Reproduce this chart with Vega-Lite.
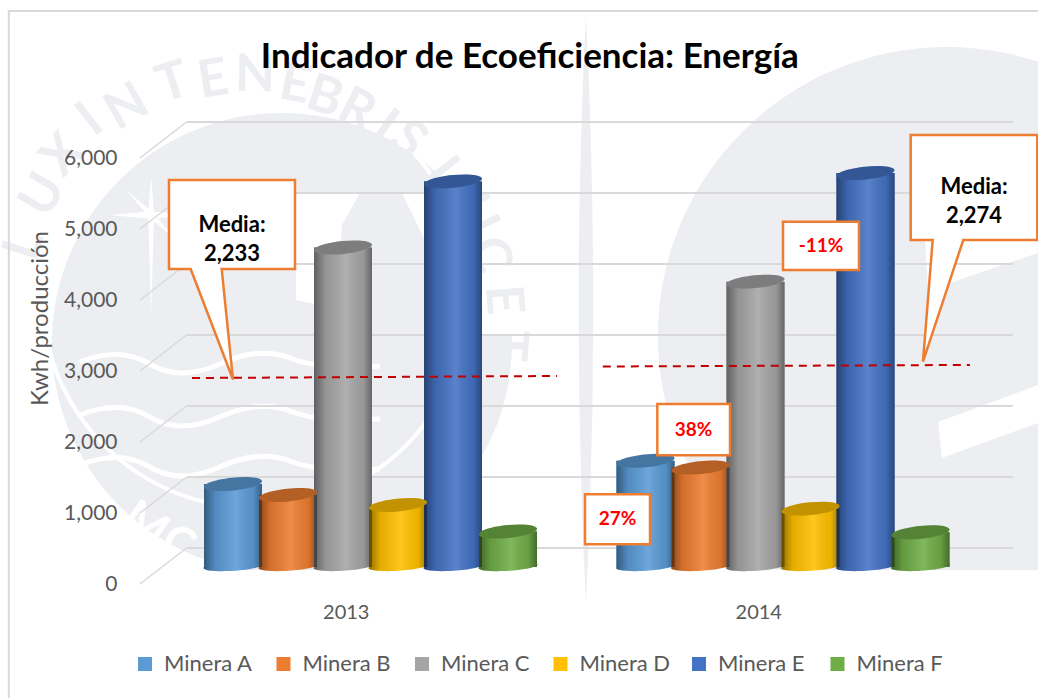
{
"$schema":"https://vega.github.io/schema/vega-lite/v6.json",
"width":825,"height":426,"autosize":{"type":"none"},
"padding":{"left":140,"right":73,"top":158,"bottom":114},
"background":"white",
"config":{"view":{"stroke":null}},
"datasets":{
"bars":[
{"anio":"2013","serie":"Minera A","valor":1169,"base":0},{"anio":"2013","serie":"Minera B","valor":1014,"base":0},{"anio":"2013","serie":"Minera C","valor":4500,"base":0},{"anio":"2013","serie":"Minera D","valor":873,"base":0},{"anio":"2013","serie":"Minera E","valor":5430,"base":0},{"anio":"2013","serie":"Minera F","valor":500,"base":0},
{"anio":"2014","serie":"Minera A","valor":1496,"base":0},{"anio":"2014","serie":"Minera B","valor":1401,"base":0},{"anio":"2014","serie":"Minera C","valor":4018,"base":0},{"anio":"2014","serie":"Minera D","valor":821,"base":0},{"anio":"2014","serie":"Minera E","valor":5549,"base":0},{"anio":"2014","serie":"Minera F","valor":489,"base":0}],
"grid":[{"nivel":0,"fondo":507,"xa":2012.5,"xb":2012.613,"xc":2014.616},{"nivel":1000,"fondo":1507,"xa":2012.5,"xb":2012.613,"xc":2014.616},{"nivel":2000,"fondo":2507,"xa":2012.5,"xb":2012.613,"xc":2014.616},{"nivel":3000,"fondo":3507,"xa":2012.5,"xb":2012.613,"xc":2014.616},{"nivel":4000,"fondo":4507,"xa":2012.5,"xb":2012.613,"xc":2014.616},{"nivel":5000,"fondo":5507,"xa":2012.5,"xb":2012.613,"xc":2014.616},{"nivel":6000,"fondo":6507,"xa":2012.5,"xb":2012.613,"xc":2014.616}],
"letras":[
{"t":"L","x":2012.22,"y":4775,"r":-72},{"t":"U","x":2012.265,"y":5479,"r":-60},{"t":"X","x":2012.313,"y":6042,"r":-48},{"t":"I","x":2012.379,"y":6535,"r":-38},{"t":"N","x":2012.468,"y":6718,"r":-30},{"t":"T","x":2012.58,"y":7056,"r":-18},{"t":"E","x":2012.677,"y":7099,"r":-9},{"t":"N","x":2012.779,"y":7169,"r":1},{"t":"E","x":2012.876,"y":7028,"r":11},{"t":"B","x":2012.948,"y":6859,"r":18},{"t":"R","x":2013.026,"y":6676,"r":27},{"t":"I","x":2013.094,"y":6437,"r":35},{"t":"S","x":2013.15,"y":6254,"r":41},{"t":"L","x":2013.239,"y":5761,"r":53},{"t":"U","x":2013.312,"y":5197,"r":65},{"t":"C","x":2013.348,"y":4634,"r":75},{"t":"E","x":2013.38,"y":4000,"r":85},{"t":"T","x":2013.39,"y":3366,"r":95}],
"pct":[{"t":"-11%","x":2014.0588,"x2":2014.243,"y":5103,"y2":4423,"cx":2014.1509,"cy":4761},{"t":"38%","x":2013.7541,"x2":2013.9303,"y":2535,"y2":1813,"cx":2013.8421,"cy":2173},{"t":"27%","x":2013.5788,"x2":2013.7364,"y":1263,"y2":559,"cx":2013.6576,"cy":915}]
},
"encoding":{
"x":{"field":"x","type":"quantitative","scale":{"domain":[2012.5,2014.5]},"axis":null},
"y":{"field":"y","type":"quantitative","scale":{"domain":[0,6000]},"axis":null}
},
"resolve":{"scale":{"x":"independent","y":"independent"}},
"layer":[
{"data":{"values":[{"x":2012.844,"y":3394}]},"mark":{"type":"point","shape":"circle","filled":true,"color":"#edeef1","opacity":1,"size":211600}},
{"data":{"values":[{"x":2014.456,"y":3493}]},"mark":{"type":"point","shape":"circle","filled":true,"color":"#edeef1","opacity":1,"size":334084}},
{"data":{"values":[{"x":2012.779,"y":4070}]},"mark":{"type":"point","shape":"circle","filled":false,"fill":null,"stroke":"#ffffff","strokeWidth":4,"opacity":1,"size":181476}},
{"data":{"values":[{"x":2013.13,"y":4563}]},"mark":{"type":"point","shape":"M-1.04,-0.67L-0.4,-0.67L-0.58,-0.35L-0.6,-0.05L-0.5,0.3L-0.8,0.45L-1.04,0.4ZM0.02,-0.67L1.2,-0.67L1.2,0.75L0.7,0.75L0.4,0.3L0.25,-0.2Z","filled":true,"color":"#ffffff","opacity":1,"size":40000}},
{"data":{"values":[{"x":2012.527,"y":5197}]},"mark":{"type":"point","shape":"M0,-0.55L0.04,-0.05L0.55,0L0.04,0.05L0,1.4L-0.04,0.05L-0.6,0L-0.04,-0.05ZM-0.35,-0.35L0.03,-0.03L0.35,0.35L-0.03,0.03Z","filled":true,"color":"#ffffff","opacity":1,"size":19600}},
{"data":{"values":[{"x":2012.742,"y":3127},{"x":2012.742,"y":2380},{"x":2012.742,"y":1676}]},"mark":{"type":"point","shape":"M-0.8,0Q-0.6,-0.08,-0.45,0.01T-0.1,0.01T0.25,-0.02T0.7,0.02","filled":false,"fill":null,"stroke":"#ffffff","strokeWidth":5,"opacity":1,"size":160000}},
{"data":{"name":"letras"},"mark":{"type":"text","font":"Lato","fontSize":52,"fontWeight":"bold","color":"#edeef1","align":"center","baseline":"middle"},"encoding":{"text":{"field":"t"},"angle":{"field":"r","type":"quantitative","scale":null}}},
{"data":{"values":[{"t":"M","x":2012.512,"y":831,"r":35},{"t":"C","x":2012.592,"y":549,"r":27}]},"mark":{"type":"text","font":"Lato","fontSize":46,"fontWeight":"bold","color":"#ffffff","align":"center","baseline":"middle"},"encoding":{"text":{"field":"t"},"angle":{"field":"r","type":"quantitative","scale":null}}},
{"data":{"values":[{"x":2012.2,"x2":2015,"y":197,"y2":-1700}]},"mark":{"type":"rect","color":"#ffffff"},"encoding":{"x2":{"field":"x2"},"y2":{"field":"y2"}}},
{"data":{"values":[{"x":2013.581,"y":3873}]},"mark":{"type":"point","shape":"M0,-1Q0.05,0,0,1Q-0.05,0,0,-1Z","filled":true,"color":"#edeef1","opacity":1,"size":345744}},
{"data":{"values":[{"x":2014.556,"y":2296}]},"mark":{"type":"point","shape":"M-0.5,0.01L0.5,-0.36L0.5,0.02L-0.463,0.37Z","filled":true,"color":"#ffffff","opacity":1,"size":40000}},
{"data":{"values":[{"x":2014.536,"y":4563}]},"mark":{"type":"point","shape":"M-0.55,-0.2L0.58,-0.2L0.58,-0.07L-0.3,0.23L-0.52,0.25Z","filled":true,"color":"#ffffff","opacity":1,"size":40000}},
{"data":{"values":[{"x":2012.182,"x2":2015,"y":8070,"y2":-1700}]},"mark":{"type":"rect","fill":"#ffffff","fillOpacity":0,"stroke":"#d9d9d9","strokeWidth":2},"encoding":{"x2":{"field":"x2"},"y2":{"field":"y2"}}},
{"data":{"values":[{"t":"Indicador de Ecoeficiencia: Energía","x":2013.445,"y":7423}]},"mark":{"type":"text","font":"Lato","fontSize":35,"fontWeight":"bold","color":"#000000","align":"center","baseline":"middle"},"encoding":{"text":{"field":"t"}}},
{"data":{"name":"grid"},"mark":{"type":"rule","color":"#d9d9d9","strokeWidth":1.5},
 "encoding":{"x":{"field":"xa","type":"quantitative","scale":{"domain":[2012.5,2014.5]},"axis":null},"x2":{"field":"xb"},
 "y":{"field":"nivel","type":"quantitative","scale":{"domain":[0,6000]},"axis":{"orient":"left","zindex":1,"values":[0,1000,2000,3000,4000,5000,6000],"format":",.0f","domain":false,"ticks":false,"grid":false,"labelFont":"Lato","labelFontSize":21,"labelColor":"#595959","labelPadding":23,"title":"Kwh/producción","titleFont":"Lato","titleFontSize":24,"titleFontWeight":"normal","titleColor":"#595959","titleAngle":-90,"titleX":-88,"titleY":160}},
 "y2":{"field":"fondo"}}},
{"data":{"name":"grid"},"mark":{"type":"rule","color":"#d9d9d9","strokeWidth":2},
 "encoding":{"x":{"field":"xb","type":"quantitative","scale":{"domain":[2012.5,2014.5]},"axis":null},"x2":{"field":"xc"},
 "y":{"field":"fondo","type":"quantitative","scale":{"domain":[0,6000]},"axis":null}}},
{"data":{"name":"bars"},"mark":{"type":"bar","width":58},
 "encoding":{"x":{"field":"anio","type":"ordinal","scale":{"domain":["2013","2014"],"paddingInner":0,"paddingOuter":0},"axis":{"orient":"bottom","zindex":1,"title":null,"labelAngle":0,"domain":false,"ticks":false,"labelFont":"Lato","labelFontSize":20,"labelColor":"#595959","labelPadding":18}},"xOffset":{"field":"serie","type":"nominal","scale":{"range":[65.5,395.5],"paddingInner":0,"paddingOuter":0}},
 "y":{"field":"valor","type":"quantitative","stack":null,"scale":{"domain":[-239.4,5760.6]},"axis":null},
 "color":{"field":"serie","type":"nominal","scale":{"domain":["Minera A","Minera B","Minera C","Minera D","Minera E","Minera F"],"range":["#5B9BD5","#ED7D31","#A5A5A5","#FFC000","#4472C4","#70AD47"]},
 "legend":{"orient":"none","zindex":1,"legendX":-6,"legendY":495,"direction":"horizontal","columns":6,"title":null,"symbolType":"square","symbolSize":196,"symbolStrokeWidth":0,"labelFont":"Lato","labelFontSize":22,"labelColor":"#595959","labelOffset":8,"columnPadding":17.5,"gridAlign":"all"}}}},
{"data":{"name":"bars"},"mark":{"type":"point","shape":"M-1,0A1,0.16,-3.5,1,1,1,-0.06A1,0.16,-3.5,1,1,-1,0Z","filled":true,"opacity":1,"size":3364},
 "encoding":{"x":{"field":"anio","type":"ordinal","scale":{"domain":["2013","2014"],"paddingInner":0,"paddingOuter":0},"axis":null},"xOffset":{"field":"serie","type":"nominal","scale":{"range":[65.5,395.5],"paddingInner":0,"paddingOuter":0}},
 "y":{"field":"base","type":"quantitative","scale":{"domain":[-239.4,5760.6]},"axis":null},
 "color":{"field":"serie","type":"nominal"}}},
{"data":{"name":"bars"},"mark":{"type":"point","shape":"M-1,0A1,0.16,-3.5,1,1,1,-0.06A1,0.16,-3.5,1,1,-1,0Z","filled":true,"opacity":1,"size":3364,"color":{"gradient":"linear","x1":0,"x2":1,"y1":0,"y2":0,"stops":[{"offset":0,"color":"rgba(0,0,0,0.42)"},{"offset":0.2,"color":"rgba(0,0,0,0.1)"},{"offset":0.55,"color":"rgba(255,255,255,0.12)"},{"offset":0.85,"color":"rgba(0,0,0,0.08)"},{"offset":1,"color":"rgba(0,0,0,0.38)"}]}},
 "encoding":{"x":{"field":"anio","type":"ordinal","scale":{"domain":["2013","2014"],"paddingInner":0,"paddingOuter":0},"axis":null},"xOffset":{"field":"serie","type":"nominal","scale":{"range":[65.5,395.5],"paddingInner":0,"paddingOuter":0}},
 "y":{"field":"base","type":"quantitative","scale":{"domain":[-239.4,5760.6]},"axis":null}}},
{"data":{"name":"bars"},"mark":{"type":"bar","width":58},
 "encoding":{"x":{"field":"anio","type":"ordinal","scale":{"domain":["2013","2014"],"paddingInner":0,"paddingOuter":0},"axis":null},"xOffset":{"field":"serie","type":"nominal","scale":{"range":[65.5,395.5],"paddingInner":0,"paddingOuter":0}},
 "y":{"field":"valor","type":"quantitative","stack":null,"scale":{"domain":[-239.4,5760.6]},"axis":null},
 "color":{"field":"serie","type":"nominal"}}},
{"data":{"name":"bars"},"mark":{"type":"bar","width":58,"color":{"gradient":"linear","x1":0,"x2":1,"y1":0,"y2":0,"stops":[{"offset":0,"color":"rgba(0,0,0,0.42)"},{"offset":0.2,"color":"rgba(0,0,0,0.1)"},{"offset":0.55,"color":"rgba(255,255,255,0.12)"},{"offset":0.85,"color":"rgba(0,0,0,0.08)"},{"offset":1,"color":"rgba(0,0,0,0.38)"}]}},
 "encoding":{"x":{"field":"anio","type":"ordinal","scale":{"domain":["2013","2014"],"paddingInner":0,"paddingOuter":0},"axis":null},"xOffset":{"field":"serie","type":"nominal","scale":{"range":[65.5,395.5],"paddingInner":0,"paddingOuter":0}},
 "y":{"field":"valor","type":"quantitative","stack":null,"scale":{"domain":[-239.4,5760.6]},"axis":null}}},
{"data":{"name":"bars"},"mark":{"type":"point","shape":"M-1,0.1A1,0.22,-5.7,1,1,1,-0.1A1,0.22,-5.7,1,1,-1,0.1Z","filled":true,"opacity":1,"size":3364},
 "encoding":{"x":{"field":"anio","type":"ordinal","scale":{"domain":["2013","2014"],"paddingInner":0,"paddingOuter":0},"axis":null},"xOffset":{"field":"serie","type":"nominal","scale":{"range":[65.5,395.5],"paddingInner":0,"paddingOuter":0}},
 "y":{"field":"valor","type":"quantitative","scale":{"domain":[-239.4,5760.6]},"axis":null},
 "color":{"field":"serie","type":"nominal"}}},
{"data":{"name":"bars"},"mark":{"type":"point","shape":"M-1,0.1A1,0.22,-5.7,1,1,1,-0.1A1,0.22,-5.7,1,1,-1,0.1Z","filled":true,"color":"#000000","opacity":0.24,"size":3364},
 "encoding":{"x":{"field":"anio","type":"ordinal","scale":{"domain":["2013","2014"],"paddingInner":0,"paddingOuter":0},"axis":null},"xOffset":{"field":"serie","type":"nominal","scale":{"range":[65.5,395.5],"paddingInner":0,"paddingOuter":0}},
 "y":{"field":"valor","type":"quantitative","scale":{"domain":[-239.4,5760.6]},"axis":null}}},
{"data":{"values":[{"x":2012.626,"x2":2013.511,"y":2901,"y2":2930},{"x":2013.622,"x2":2014.512,"y":3063,"y2":3085}]},"mark":{"type":"rule","color":"#c00000","strokeWidth":2,"strokeDash":[8,6]},"encoding":{"x2":{"field":"x2"},"y2":{"field":"y2"}}},
{"data":{"values":[{"x":2012.723,"y":5056}]},"mark":{"type":"point","shape":"M-0.315,-0.225L0.315,-0.225L0.315,0.22L-0.0515,0.22L0.005,0.7725L-0.2065,0.22L-0.315,0.22Z","filled":true,"fill":"#ffffff","stroke":"#ED7D31","strokeWidth":2.5,"opacity":1,"size":160000}},
{"data":{"values":[{"x":2014.5218,"y":5585}]},"mark":{"type":"point","shape":"M-0.3165,-0.2625L0.3165,-0.2625L0.3165,0.2625L-0.0535,0.2625L-0.255,0.871L-0.2065,0.2625L-0.3165,0.2625Z","filled":true,"fill":"#ffffff","stroke":"#ED7D31","strokeWidth":2.5,"opacity":1,"size":160000}},
{"data":{"values":[{"t":"Media:\n2,233","x":2012.723,"y":5056},{"t":"Media:\n2,274","x":2014.5218,"y":5585}]},"mark":{"type":"text","font":"Lato","fontSize":22,"fontWeight":"bold","color":"#000000","align":"center","baseline":"middle","lineBreak":"\n","lineHeight":29},"encoding":{"text":{"field":"t"}}},
{"data":{"name":"pct"},"mark":{"type":"rect","fill":"#ffffff","stroke":"#ED7D31","strokeWidth":2.5},"encoding":{"x2":{"field":"x2"},"y2":{"field":"y2"}}},
{"data":{"name":"pct"},"mark":{"type":"text","font":"Lato","fontSize":19,"fontWeight":"bold","color":"#ff0000","align":"center","baseline":"middle"},"encoding":{"x":{"field":"cx","type":"quantitative","scale":{"domain":[2012.5,2014.5]},"axis":null},"y":{"field":"cy","type":"quantitative","scale":{"domain":[0,6000]},"axis":null},"text":{"field":"t"}}}
]
}
